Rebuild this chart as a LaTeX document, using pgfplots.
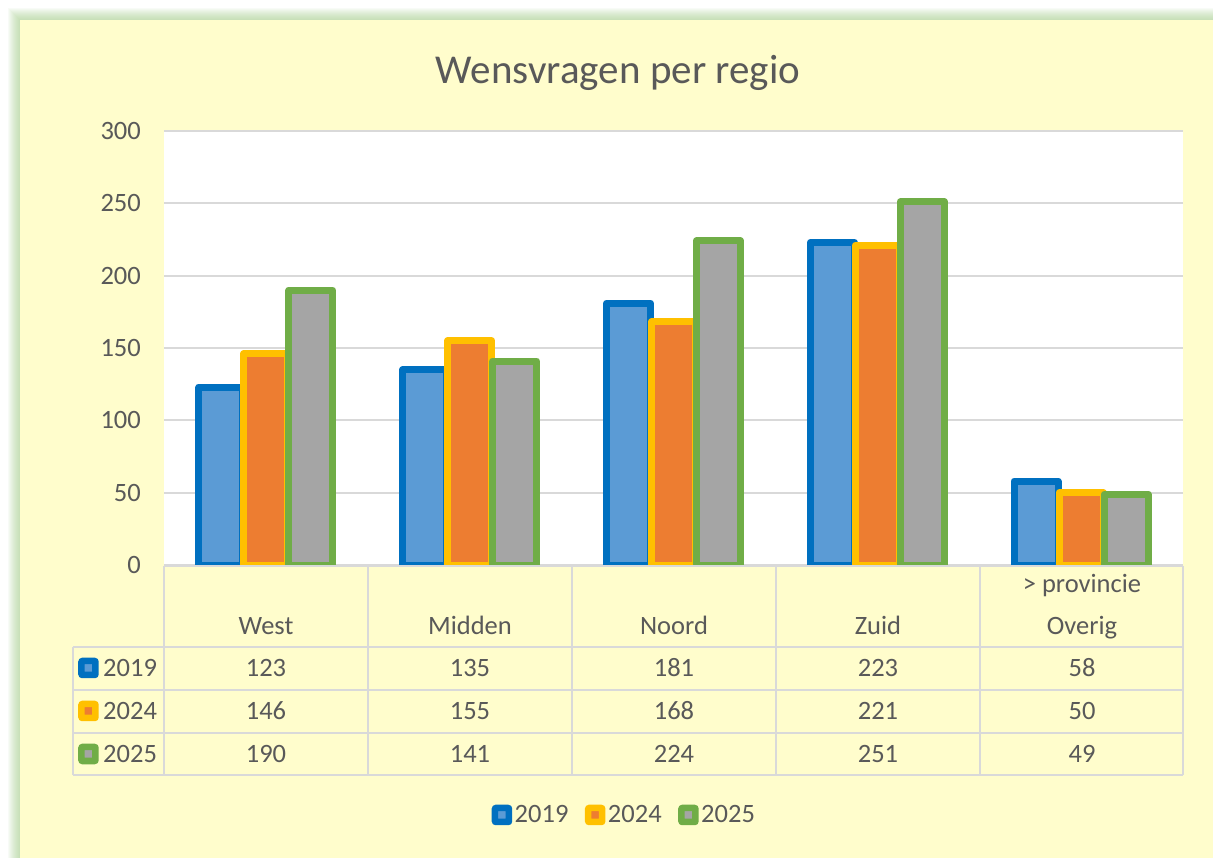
\documentclass[border=0pt]{standalone}
\usepackage{pgfplots}
\pgfplotsset{compat=1.18}
\usepackage{pgfplotstable}
\usepackage{fontspec}
\setmainfont{Carlito}
\definecolor{txt}{HTML}{595959}
\definecolor{gridc}{HTML}{D9D9D9}
\definecolor{bgy}{HTML}{FFFDCC}
\definecolor{glow}{HTML}{A9D18E}
\definecolor{cAb}{HTML}{0070C0}
\definecolor{cAf}{HTML}{5B9BD5}
\definecolor{cBb}{HTML}{FFC000}
\definecolor{cBf}{HTML}{ED7D31}
\definecolor{cCb}{HTML}{70AD47}
\definecolor{cCf}{HTML}{A5A5A5}
\pgfplotsset{keyimg/.style 2 args={legend image code/.code={\draw[draw=#1, fill=#2, line width=6.5bp, line join=round, rounded corners=0.5bp] (0bp,-7bp) rectangle (14bp,7bp);}}}
\pgfplotstableread{
cat y2019 y2024 y2025
0 123 146 190
1 135 155 141
2 181 168 224
3 223 221 251
4 58 50 49
}\data
\begin{document}
\begin{tikzpicture}[font=\fontsize{26.5bp}{31bp}\selectfont, text=txt]
\begin{scope}[x=1bp,y=-1bp,shift={(-164bp,565bp)}]
\useasboundingbox (0,0) rectangle (1213,858);
\fill[white] (0,0) rectangle (1213,858);
\begin{scope}
\clip (0,0) rectangle (1213,858);
\foreach \k in {1,...,12} \fill[glow, opacity=0.07] ({20-\k},{20-\k}) rectangle (1230,870);
\fill[bgy] (20,20) rectangle (1230,870);
\end{scope}
\node[anchor=base, font=\fontsize{41bp}{48bp}\selectfont] at (618,83.3) {Wensvragen per regio};
\end{scope}
\begin{axis}[at={(0,0)}, anchor=south west, scale only axis,
  width=1019bp, height=434bp,
  xmin=-0.5, xmax=4.5, ymin=0, ymax=300,
  ytick={0,50,...,300}, xtick=\empty,
  ymajorgrids, grid style={color=gridc, line width=2bp},
  axis line style={draw=none}, major tick length=0pt,
  axis background/.style={fill=white},
  /pgf/number format/assume math mode=true,
  yticklabel style={anchor=east, inner sep=0pt, xshift=-23bp, text=txt, font=\fontsize{26.5bp}{31bp}\selectfont},
  ybar=1bp, bar width=44bp,
  legend columns=3,
  legend style={at={(0.452,-0.576)}, anchor=center, draw=none, fill=none, inner sep=0pt,
    nodes={inner sep=2.5bp}, font=\fontsize{26.5bp}{31bp}\selectfont, text=txt,
    /tikz/every even column/.append style={column sep=14bp}},
  legend cell align=left]
\addplot[draw=cAb, fill=cAf, line width=7bp, line join=round, keyimg={cAb}{cAf}] table[x=cat,y=y2019]{\data};
\addplot[draw=cBb, fill=cBf, line width=7bp, line join=round, keyimg={cBb}{cBf}] table[x=cat,y=y2024]{\data};
\addplot[draw=cCb, fill=cCf, line width=7bp, line join=round, keyimg={cCb}{cCf}] table[x=cat,y=y2025]{\data};
\legend{2019,2024,2025}
\end{axis}
\begin{scope}[x=1bp,y=-1bp,shift={(-164bp,565bp)}]
\draw[gridc, line width=2bp] (164,566) -- (1183,566);
\foreach \yy in {647,690,733,775} \draw[gridc, line width=2bp] (73,\yy) -- (1183,\yy);
\foreach \xx in {164,368,572,776,980,1183} \draw[gridc, line width=2bp] (\xx,566) -- (\xx,775);
\draw[gridc, line width=2bp] (73,647) -- (73,775);
\foreach \c [count=\i from 0] in {West,Midden,Noord,Zuid,Overig} \node[anchor=base] at ({266+204*\i},635) {\c};
\node[anchor=base] at (1082,593) {> provincie};
\foreach \v [count=\i from 0] in {123,135,181,223,58} \node[anchor=base] at ({266+204*\i},676.5) {\v};
\foreach \v [count=\i from 0] in {146,155,168,221,50} \node[anchor=base] at ({266+204*\i},719.5) {\v};
\foreach \v [count=\i from 0] in {190,141,224,251,49} \node[anchor=base] at ({266+204*\i},762.5) {\v};
\draw[cAb, fill=cAf, line width=6.5bp, line join=round, rounded corners=0.5bp] (81.5,661) rectangle (95.5,675);
\draw[cBb, fill=cBf, line width=6.5bp, line join=round, rounded corners=0.5bp] (81.5,704) rectangle (95.5,718);
\draw[cCb, fill=cCf, line width=6.5bp, line join=round, rounded corners=0.5bp] (81.5,747) rectangle (95.5,761);
\node[anchor=base west, inner sep=0pt] at (103,676.5) {2019};
\node[anchor=base west, inner sep=0pt] at (103,719.5) {2024};
\node[anchor=base west, inner sep=0pt] at (103,762.5) {2025};
\end{scope}
\end{tikzpicture}
\end{document}
